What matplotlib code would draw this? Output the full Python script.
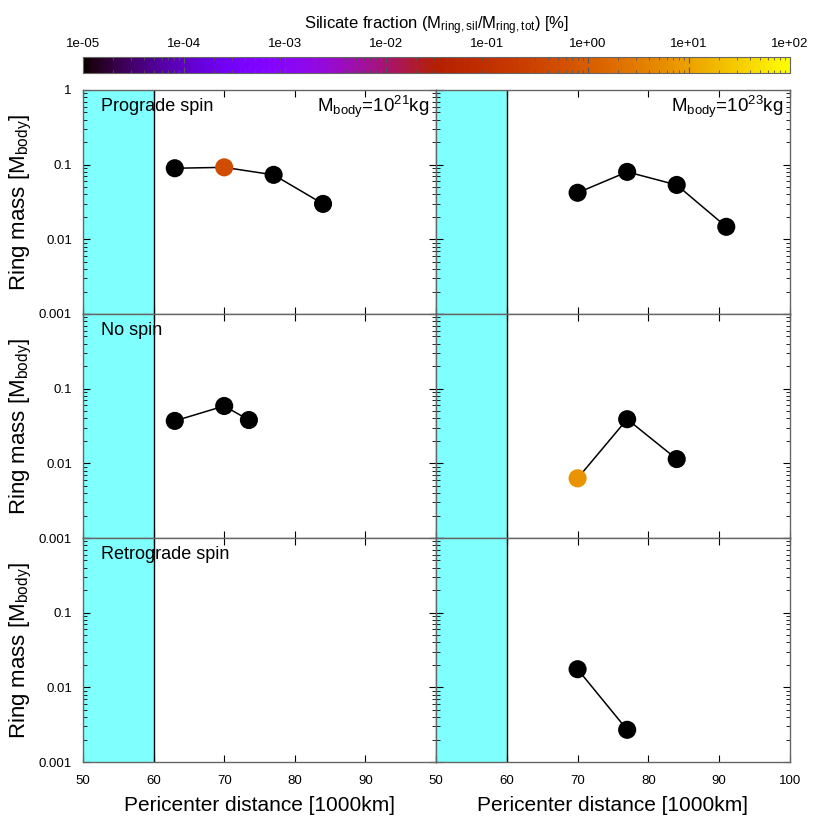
import matplotlib
matplotlib.use("Agg")
import matplotlib.pyplot as plt
import numpy as np
from matplotlib.colors import LogNorm
from matplotlib.ticker import FixedLocator, FixedFormatter, LogLocator, NullFormatter

plt.rcParams["font.family"] = ["Liberation Sans", "DejaVu Sans"]
plt.rcParams["mathtext.default"] = "regular"

# panel data: pericenter distance [1000 km], ring mass [M_body], silicate fraction [%] (0 = none)
prograde_21_dist = [63, 70, 77, 84]
prograde_21_mass = [0.0895, 0.092, 0.073, 0.0298]
prograde_21_sil = [0, 0.47, 0, 0]

prograde_23_dist = [70, 77, 84, 91]
prograde_23_mass = [0.042, 0.080, 0.0535, 0.0147]
prograde_23_sil = [0, 0, 0, 0]

nospin_21_dist = [63, 70, 73.5]
nospin_21_mass = [0.037, 0.0586, 0.038]
nospin_21_sil = [0, 0, 0]

nospin_23_dist = [70, 77, 84]
nospin_23_mass = [0.0063, 0.039, 0.0114]
nospin_23_sil = [6.5, 0, 0]

retro_21_dist = []
retro_21_mass = []
retro_21_sil = []

retro_23_dist = [70, 77]
retro_23_mass = [0.0175, 0.0027]
retro_23_sil = [0, 0]

row_labels = ["Prograde spin", "No spin", "Retrograde spin"]
body_labels = [r"M$_{body}$=10$^{21}$kg", r"M$_{body}$=10$^{23}$kg"]
ytick_vals = [0.001, 0.01, 0.1, 1]
ytick_text = ["0.001", "0.01", "0.1", "1"]
cbar_ticks = [1e-5, 1e-4, 1e-3, 1e-2, 1e-1, 1e0, 1e1, 1e2]
cbar_text = ["1e-05", "1e-04", "1e-03", "1e-02", "1e-01", "1e+00", "1e+01", "1e+02"]

panels = [
    [(prograde_21_dist, prograde_21_mass, prograde_21_sil),
     (prograde_23_dist, prograde_23_mass, prograde_23_sil)],
    [(nospin_21_dist, nospin_21_mass, nospin_21_sil),
     (nospin_23_dist, nospin_23_mass, nospin_23_sil)],
    [(retro_21_dist, retro_21_mass, retro_21_sil),
     (retro_23_dist, retro_23_mass, retro_23_sil)],
]

cmap = plt.get_cmap("gnuplot")
norm = LogNorm(vmin=1e-5, vmax=1e2)
frame_col = "#666666"

fig = plt.figure(figsize=(8.3, 8.3), dpi=100)

col_x = [0.1, 0.5253]
col_w = [0.4253, 0.4265]
row_b = [0.6217, 0.3518, 0.0819]
row_h = 0.2699

for r in range(3):
    for c in range(2):
        ax = fig.add_axes([col_x[c], row_b[r], col_w[c], row_h])
        ax.set_xlim(50, 100)
        ax.set_yscale("log")
        ax.set_ylim(0.001, 1)
        ax.axvspan(50, 60, color="#80ffff", zorder=0, lw=0)
        ax.axvline(60, color="black", lw=1.0, zorder=1)

        dist, mass, sil = panels[r][c]
        if dist:
            ax.plot(dist, mass, color="black", lw=1.1, zorder=2)
            colors = [cmap(norm(s)) if s > 0 else "black" for s in sil]
            ax.scatter(dist, mass, s=170, c=colors, zorder=3, linewidths=0)

        for sp in ax.spines.values():
            sp.set_color(frame_col)
            sp.set_linewidth(1.0)

        ax.xaxis.set_major_locator(FixedLocator([50, 60, 70, 80, 90, 100]))
        ax.yaxis.set_major_locator(FixedLocator(ytick_vals))
        ax.yaxis.set_minor_locator(LogLocator(base=10, subs=np.arange(2, 10), numticks=20))
        ax.yaxis.set_minor_formatter(NullFormatter())
        ax.tick_params(which="both", direction="in", top=True, right=True,
                       labelsize=9.5, color="black")
        ax.tick_params(which="major", length=5)
        ax.tick_params(which="minor", length=3)
        ax.tick_params(axis="y", pad=8)
        ax.tick_params(axis="x", pad=9)

        if c == 0:
            labels = list(ytick_text)
            if r > 0:
                labels[-1] = ""
            ax.yaxis.set_major_formatter(FixedFormatter(labels))
            ax.set_ylabel(r"Ring mass [M$_{body}$]", fontsize=16)
            ax.yaxis.set_label_coords(-0.14, 0.5)
            ax.text(0.05, 0.925, row_labels[r], transform=ax.transAxes,
                    fontsize=13, ha="left", va="center")
        else:
            ax.set_yticklabels([])

        if r == 0:
            ax.text(0.98, 0.925, body_labels[c], transform=ax.transAxes,
                    fontsize=13.5, ha="right", va="center")

        if r == 2:
            xl = ["50", "60", "70", "80", "90", "100"] if c == 1 else ["50", "60", "70", "80", "90", ""]
            ax.xaxis.set_major_formatter(FixedFormatter(xl))
            ax.set_xlabel("Pericenter distance [1000km]", fontsize=15, labelpad=7)
        else:
            ax.set_xticklabels([])

cax = fig.add_axes([0.1, 0.912, 0.8518, 0.0193])
sm = plt.cm.ScalarMappable(norm=norm, cmap=cmap)
cb = fig.colorbar(sm, cax=cax, orientation="horizontal")
cb.outline.set_edgecolor(frame_col)
cax.xaxis.set_ticks_position("top")
cax.xaxis.set_label_position("top")
cb.set_ticks(cbar_ticks)
cb.set_ticklabels(cbar_text)
cax.tick_params(which="both", direction="in", top=True, bottom=True,
                labelsize=9.5, color="#555555")
cax.tick_params(which="major", length=4, pad=5)
cax.tick_params(which="minor", length=2.5)
cb.set_label(r"Silicate fraction (M$_{ring,sil}$/M$_{ring,tot}$) [%]", fontsize=12, labelpad=6)

fig.savefig("out.png", dpi=100)
